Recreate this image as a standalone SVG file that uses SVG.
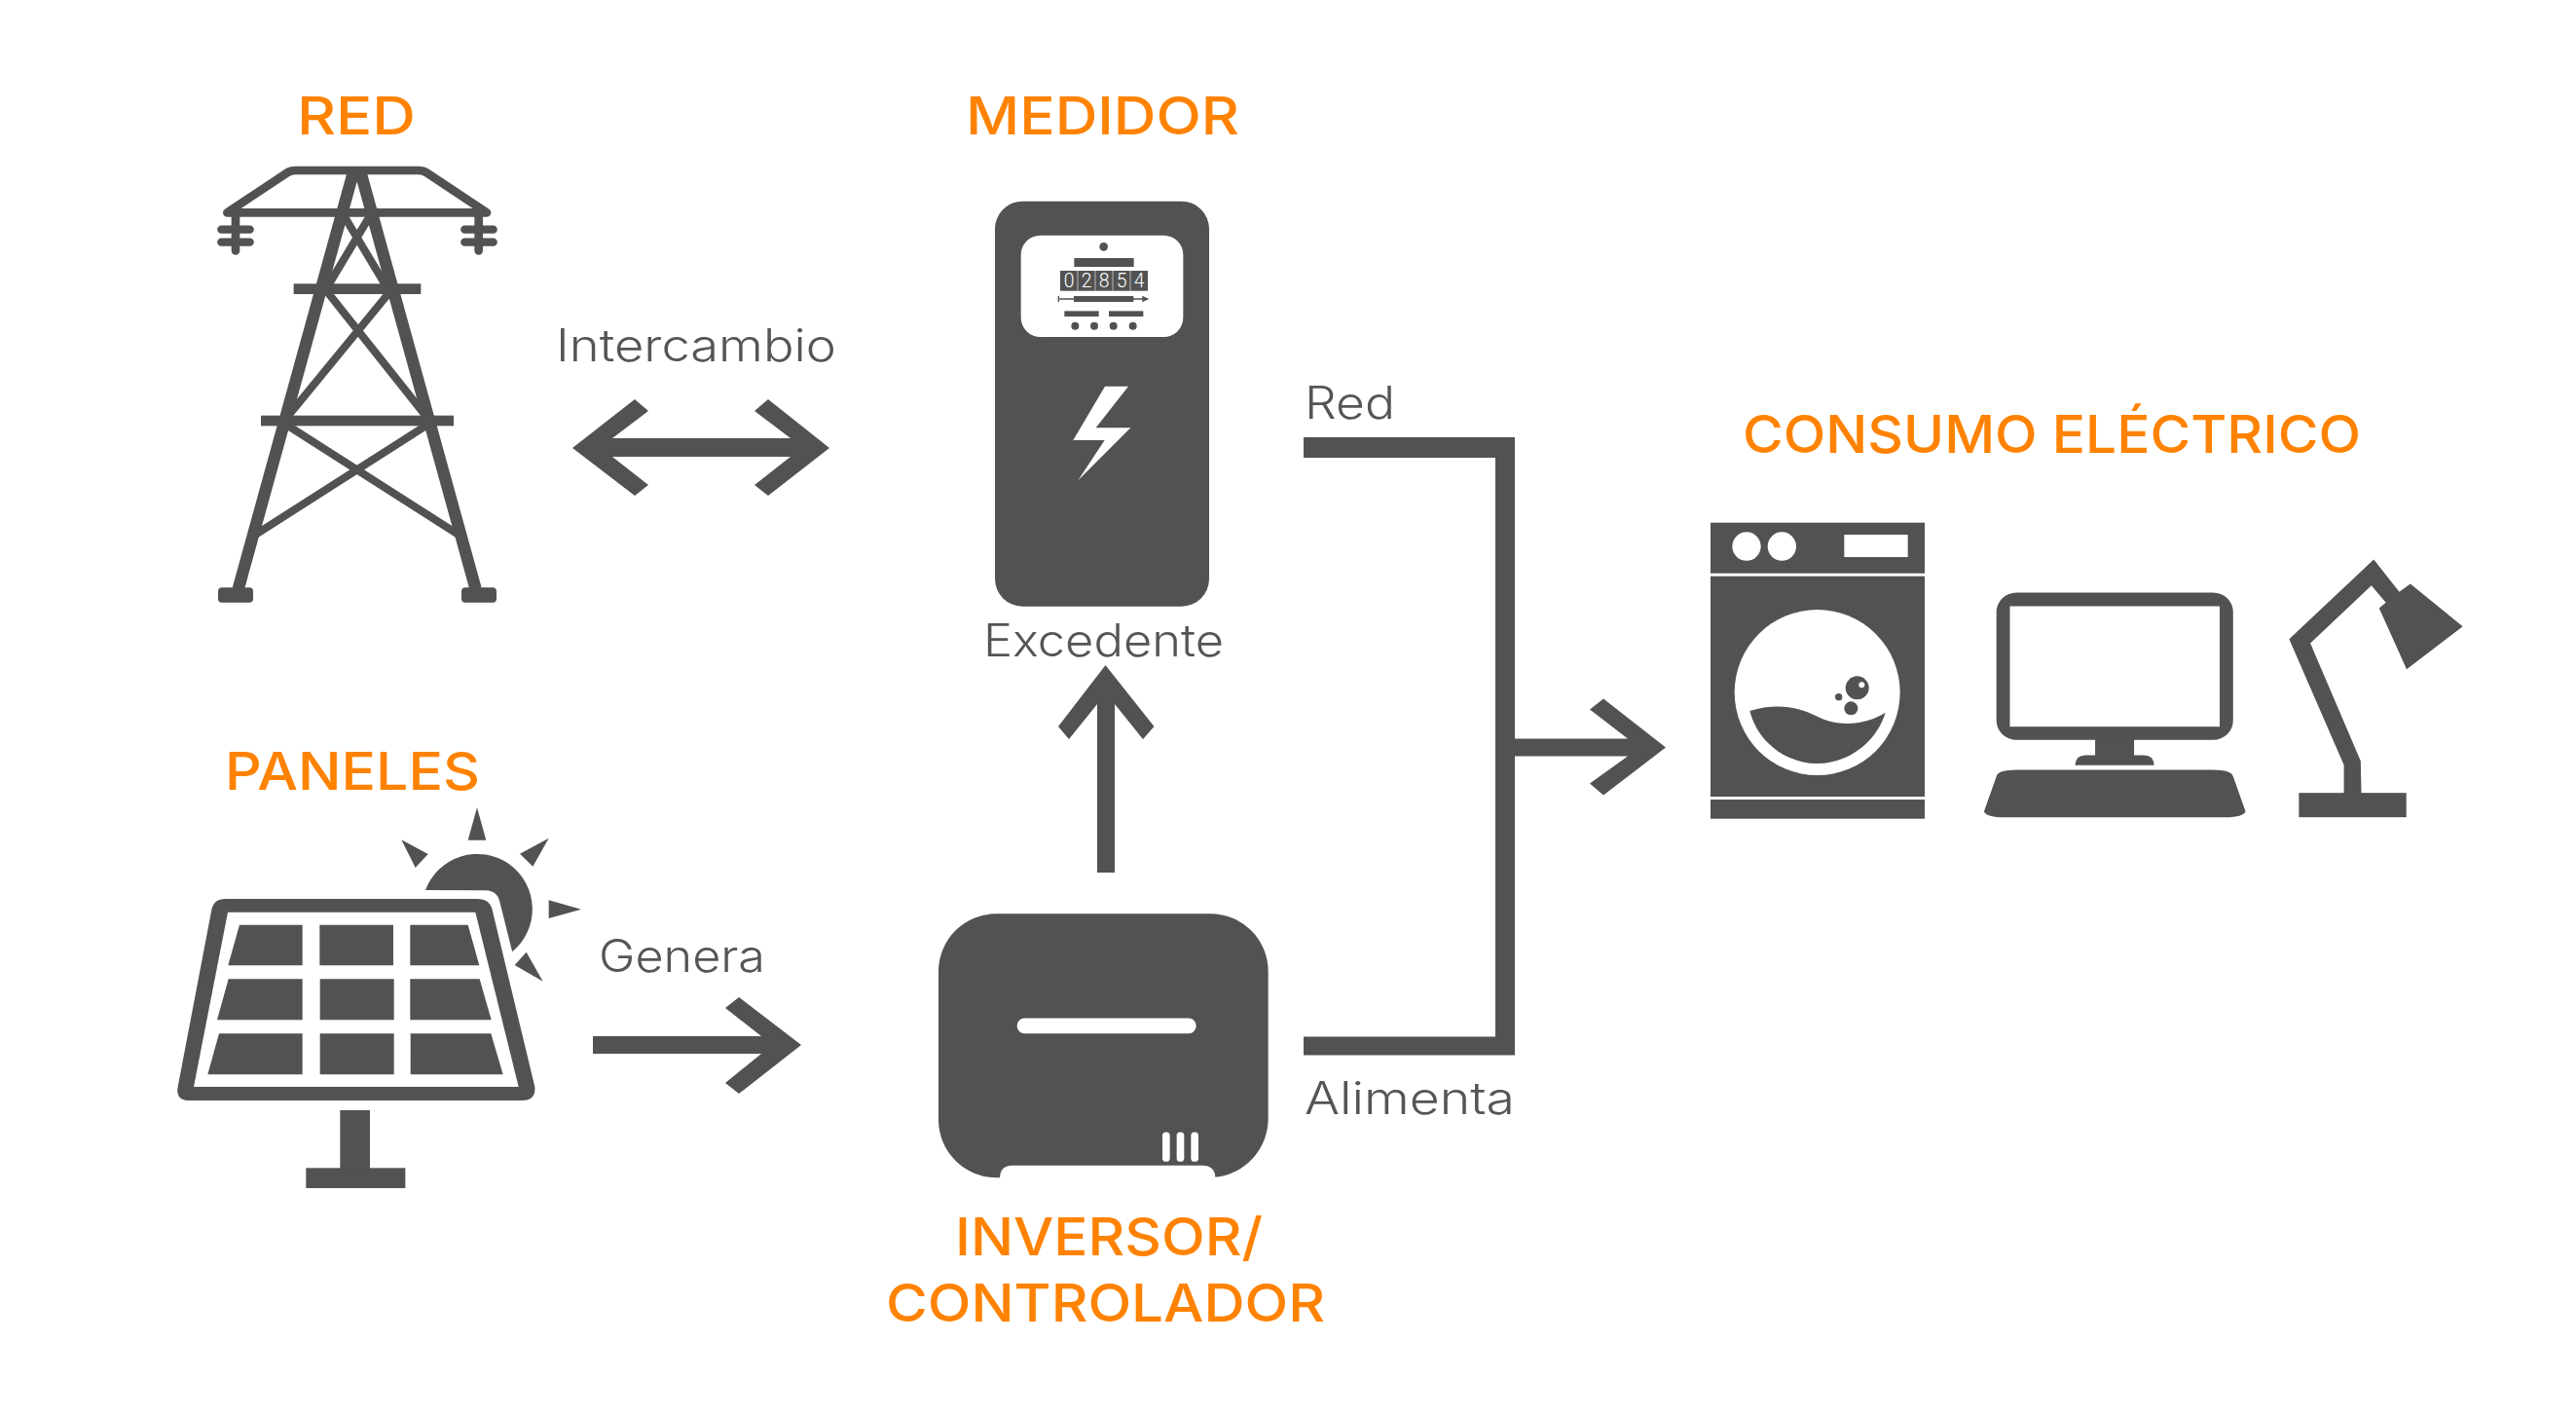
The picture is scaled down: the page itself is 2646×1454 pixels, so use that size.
<svg xmlns="http://www.w3.org/2000/svg" width="2646" height="1454" viewBox="0 0 2646 1454">
<style>
.t{font-family:"Inter","Liberation Sans",sans-serif;font-weight:550;font-size:54px;fill:#ff8200}
.l{font-family:"Inter","Liberation Sans",sans-serif;font-weight:300;font-size:46px;fill:#555}
.d{fill:#525252}
.w{fill:#fff}
.s{fill:none;stroke:#525252}
.n{font-family:"Roboto","Liberation Sans",sans-serif;font-weight:300;font-size:58px;fill:#fff;text-anchor:middle}
</style>
<rect width="2646" height="1454" fill="#fff"/>
<g id="connectors" class="d">
<polygon id="c-intercambio" points="588,460 652,410 666,422 629,450 812,450 775,422 789,410 852,460 789,509 775,498 812,469 629,469 666,498 652,509"/>
<polygon id="c-genera" points="609,1064 782,1064 745,1035 759,1024 823,1073 759,1123 745,1112 782,1082 609,1082"/>
<polygon id="c-excedente" points="1127,896 1127,723 1098,759 1087,746 1135.500,683 1185.500,746 1174,759 1145,723 1145,896"/>
<polygon id="c-bracket" points="1339,449 1556,449 1556,758.500 1672,758.500 1633,728.500 1647,717.500 1711,767.500 1647,816.500 1633,804.500 1672,776.500 1556,776.500 1556,1083.500 1339,1083.500 1339,1064.500 1536,1064.500 1536,470 1339,470"/>
<text class="l" x="571" y="371" textLength="288" lengthAdjust="spacingAndGlyphs">Intercambio</text>
<text class="l" x="1340" y="430" textLength="93" lengthAdjust="spacingAndGlyphs">Red</text>
<text class="l" x="1340" y="1143.500" textLength="216" lengthAdjust="spacingAndGlyphs">Alimenta</text>
<text class="l" x="1010" y="674" textLength="247" lengthAdjust="spacingAndGlyphs">Excedente</text>
<text class="l" x="615" y="998" textLength="171" lengthAdjust="spacingAndGlyphs">Genera</text>
</g>
<g id="node-red">
<text class="t" x="305" y="138" textLength="122" lengthAdjust="spacingAndGlyphs">RED</text>
<g transform="translate(180 150) scale(.33333)">
<path class="s" stroke-width="26" stroke-linejoin="round" d="M160,205 L345,82 Q355,75 370,75 L750,75 Q765,75 775,82 L960,205 Z"/>
<path class="s" stroke-width="26" stroke-linecap="round" d="M186,205V322M935,205V322"/>
<path class="s" stroke-width="25" stroke-linecap="round" d="M142,257H230M142,296H230M892,257H980M892,296H980"/>
<path class="s" stroke-width="37" d="M549,80L194,1365M571,80L926,1365"/>
<path class="s" stroke-width="24" d="M600,215L465,440M520,215L655,440M665,445L345,835M465,445L775,835M775,860L250,1195M345,860L870,1195"/>
<rect class="d" x="365" y="424" width="392" height="32"/>
<rect class="d" x="264" y="830" width="594" height="32"/>
<rect class="d" x="132" y="1360" width="108" height="46" rx="12"/>
<rect class="d" x="882" y="1360" width="108" height="46" rx="12"/>
</g>
</g>
<g id="node-medidor">
<text class="t" x="992" y="138" textLength="281" lengthAdjust="spacingAndGlyphs">MEDIDOR</text>
<g transform="translate(1000 190.700) scale(.33333)">
<rect class="d" x="66" y="48" width="660" height="1248" rx="85"/>
<rect class="w" x="146" y="153" width="500" height="313" rx="60"/>
<circle class="d" cx="401" cy="188" r="13"/>
<rect class="d" x="310" y="223" width="184" height="27"/>
<rect class="d" x="267" y="262" width="270" height="62"/>
<path stroke="#bbb" stroke-width="3" d="M321,262V324M375,262V324M429,262V324M483,262V324"/>
<text class="n" x="294" y="314">0</text>
<text class="n" x="348" y="314">2</text>
<text class="n" x="402" y="314">8</text>
<text class="n" x="456" y="314">5</text>
<text class="n" x="510" y="314">4</text>
<path class="s" stroke-width="4" d="M262,340V358M262,349H525"/>
<polygon class="d" points="520,339 541,349 520,359"/>
<rect class="d" x="309" y="340" width="184" height="18"/>
<rect class="d" x="280" y="386" width="106" height="17"/>
<rect class="d" x="417" y="386" width="106" height="17"/>
<circle class="d" cx="313" cy="432" r="12"/>
<circle class="d" cx="372" cy="432" r="12"/>
<circle class="d" cx="431" cy="432" r="12"/>
<circle class="d" cx="491" cy="432" r="12"/>
<polygon class="w" points="405,618 477,618 377,746 484,746 322,908 404,784 307,784"/>
</g>
</g>
<g id="node-paneles">
<text class="t" x="231" y="811" textLength="262" lengthAdjust="spacingAndGlyphs">PANELES</text>
<g transform="translate(160 811) scale(.33333)">
<path class="d" d="M215,336 L990,336 Q1030,336 1037,370 L1168,915 Q1172,957 1130,957 L105,957 Q60,957 68,915 L172,370 Q178,336 215,336 Z"/>
<polygon class="w" points="222,377 985,377 1118,915 117,915"/>
<g class="d">
<polygon points="258,416 452,416 452,541 223,541"/>
<polygon points="505,416 732,416 732,541 505,541"/>
<polygon points="784,416 962,416 997,541 784,541"/>
<polygon points="224,583 452,583 452,709 189,709"/>
<polygon points="506,583 734,583 734,709 506,709"/>
<polygon points="784,583 998,583 1034,709 784,709"/>
<polygon points="195,751 452,751 452,877 160,877"/>
<polygon points="506,751 734,751 734,877 506,877"/>
<polygon points="785,751 1033,751 1070,877 785,877"/>
<rect x="568" y="987" width="92" height="180"/>
<rect x="463" y="1165" width="306" height="62"/>
<path d="M831,309 A170,170 0 1 1 1098.500,499 L1060,345 Q1052,310 1015,310 Z"/>
<polygon points="990,55 1018,155 962,155"/>
<polygon points="1211,149 1162,236 1122,197"/>
<polygon points="1311,368 1211,340 1211,396"/>
<polygon points="1193,590 1106,540 1142,500"/>
<polygon points="757,154 839,198 800,240"/>
</g>
</g>
</g>
<g id="node-inversor">
<text class="t" x="981" y="1289" textLength="316" lengthAdjust="spacingAndGlyphs">INVERSOR/</text>
<text class="t" x="910" y="1357" textLength="451" lengthAdjust="spacingAndGlyphs">CONTROLADOR</text>
<g transform="translate(950 921.500) scale(.33333)">
<path class="d" d="M220,50 L880,50 A178,178 0 0 1 1058,228 L1058,680 A182,182 0 0 1 895,862 Q893,826 855,826 L270,826 Q233,826 231,863 L220,863 A178,178 0 0 1 42,685 L42,228 A178,178 0 0 1 220,50 Z"/>
<rect class="w" x="284" y="372" width="552" height="47" rx="23"/>
<rect class="w" x="732" y="723" width="23" height="91" rx="11"/>
<rect class="w" x="776" y="723" width="23" height="91" rx="11"/>
<rect class="w" x="820" y="723" width="23" height="91" rx="11"/>
</g>
</g>
<g id="node-consumo">
<text class="t" x="1790" y="465" textLength="635" lengthAdjust="spacingAndGlyphs">CONSUMO ELÉCTRICO</text>
<g id="lavadora" transform="translate(1750 520.700) scale(.33333)">
<rect class="d" x="21" y="48" width="660" height="156"/>
<circle class="w" cx="132" cy="121" r="44"/>
<circle class="w" cx="241" cy="121" r="44"/>
<rect class="w" x="433" y="85" width="196" height="69"/>
<rect class="d" x="21" y="213" width="660" height="679"/>
<rect class="d" x="21" y="901" width="660" height="59"/>
<circle class="w" cx="350" cy="571" r="255"/>
<path class="d" d="M142,628 C230,600 300,620 350,645 C420,680 500,670 560,633 C530,730 440,790 350,790 C250,790 165,720 142,628 Z"/>
<circle class="d" cx="473" cy="557" r="36"/>
<circle class="w" cx="487" cy="548" r="9"/>
<circle class="d" cx="454" cy="620" r="21"/>
<circle class="d" cx="416" cy="585" r="11"/>
</g>
<g id="ordenador" transform="translate(2030 560.500) scale(.34483 .33333)">
<rect class="d" x="60" y="144" width="705" height="454" rx="60"/>
<rect class="w" x="100" y="186" width="625" height="371"/>
<rect class="d" x="354" y="590" width="116" height="60"/>
<path class="d" d="M294,676 Q296,645 325,645 L500,645 Q528,645 530,676 Z"/>
<path class="d" d="M60,710 Q65,690 120,690 L705,690 Q760,690 765,710 L802,818 Q795,836 740,836 L85,836 Q30,836 23,818 Z"/>
</g>
<g id="lampara" transform="translate(2030 560.500) scale(.34483 .33333)">
<rect class="d" x="961" y="761" width="320" height="75"/>
<polygon class="d" points="1147,765 1145,663 995,300 1177,122 1220,175 1200,192 1282,380 1449,248 1293,117 1260,142 1184,42 932,287 1095,675 1095,765"/>
</g>
</g>
</svg>
